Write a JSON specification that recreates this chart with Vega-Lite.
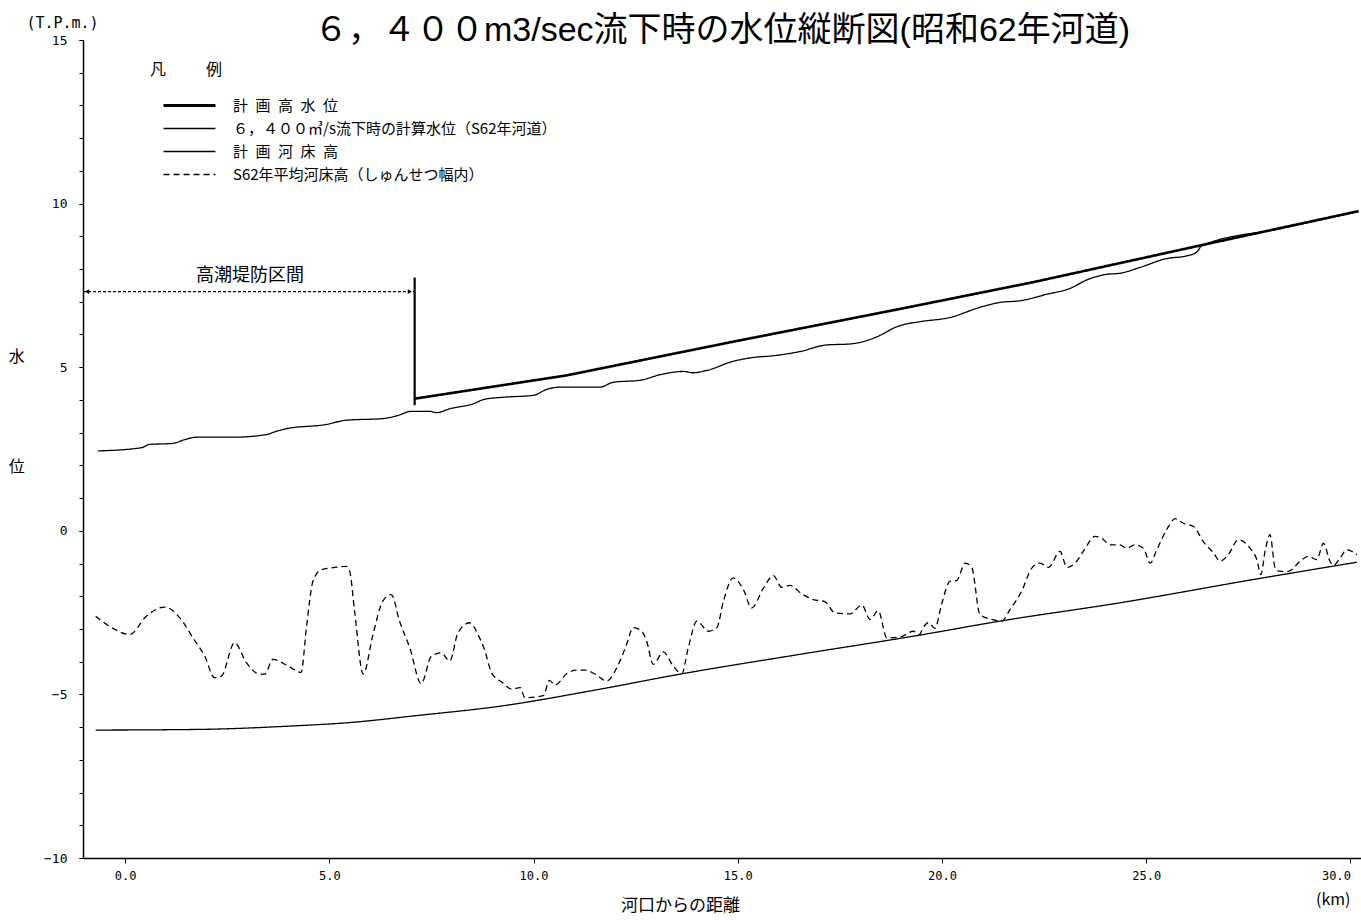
{
  "$schema": "https://vega.github.io/schema/vega-lite/v6.json",
  "width": 1278,
  "height": 818,
  "autosize": "none",
  "padding": {"left": 83, "top": 40, "right": 0, "bottom": 62},
  "background": "white",
  "title": {
    "text": "６，４００m3/sec流下時の水位縦断図(昭和62年河道)",
    "font": "Liberation Sans, Noto Sans CJK JP",
    "fontSize": 34,
    "fontWeight": "normal",
    "color": "black",
    "anchor": "middle",
    "frame": "group",
    "baseline": "alphabetic",
    "offset": -60
  },
  "resolve": {"axis": {"y": "independent"}},
  "datasets": {
    "hwl": [
      {"series": "計\u2002画\u2002高\u2002水\u2002位", "km": 7.10, "el": 4.04},
      {"series": "計\u2002画\u2002高\u2002水\u2002位", "km": 10.81, "el": 4.75},
      {"series": "計\u2002画\u2002高\u2002水\u2002位", "km": 14.89, "el": 5.78},
      {"series": "計\u2002画\u2002高\u2002水\u2002位", "km": 18.97, "el": 6.78},
      {"series": "計\u2002画\u2002高\u2002水\u2002位", "km": 22.24, "el": 7.60},
      {"series": "計\u2002画\u2002高\u2002水\u2002位", "km": 26.32, "el": 8.72},
      {"series": "計\u2002画\u2002高\u2002水\u2002位", "km": 30.20, "el": 9.77}
    ],
    "others": [
      {"series": "６，４００㎥/s流下時の計算水位（S62年河道）", "km": -0.66, "el": 2.44},
      {"series": "６，４００㎥/s流下時の計算水位（S62年河道）", "km": 0.40, "el": 2.54},
      {"series": "６，４００㎥/s流下時の計算水位（S62年河道）", "km": 0.60, "el": 2.64},
      {"series": "６，４００㎥/s流下時の計算水位（S62年河道）", "km": 1.17, "el": 2.67},
      {"series": "６，４００㎥/s流下時の計算水位（S62年河道）", "km": 1.42, "el": 2.77},
      {"series": "６，４００㎥/s流下時の計算水位（S62年河道）", "km": 1.74, "el": 2.86},
      {"series": "６，４００㎥/s流下時の計算水位（S62年河道）", "km": 2.64, "el": 2.86},
      {"series": "６，４００㎥/s流下時の計算水位（S62年河道）", "km": 3.46, "el": 2.94},
      {"series": "６，４００㎥/s流下時の計算水位（S62年河道）", "km": 3.70, "el": 3.04},
      {"series": "６，４００㎥/s流下時の計算水位（S62年河道）", "km": 3.95, "el": 3.12},
      {"series": "６，４００㎥/s流下時の計算水位（S62年河道）", "km": 4.93, "el": 3.25},
      {"series": "６，４００㎥/s流下時の計算水位（S62年河道）", "km": 5.42, "el": 3.38},
      {"series": "６，４００㎥/s流下時の計算水位（S62年河道）", "km": 6.31, "el": 3.43},
      {"series": "６，４００㎥/s流下時の計算水位（S62年河道）", "km": 6.64, "el": 3.51},
      {"series": "６，４００㎥/s流下時の計算水位（S62年河道）", "km": 7.01, "el": 3.65},
      {"series": "６，４００㎥/s流下時の計算水位（S62年河道）", "km": 7.46, "el": 3.65},
      {"series": "６，４００㎥/s流下時の計算水位（S62年河道）", "km": 7.62, "el": 3.61},
      {"series": "６，４００㎥/s流下時の計算水位（S62年河道）", "km": 7.95, "el": 3.73},
      {"series": "６，４００㎥/s流下時の計算水位（S62年河道）", "km": 8.52, "el": 3.88},
      {"series": "６，４００㎥/s流下時の計算水位（S62年河道）", "km": 8.80, "el": 4.02},
      {"series": "６，４００㎥/s流下時の計算水位（S62年河道）", "km": 9.24, "el": 4.08},
      {"series": "６，４００㎥/s流下時の計算水位（S62年河道）", "km": 10.00, "el": 4.14},
      {"series": "６，４００㎥/s流下時の計算水位（S62年河道）", "km": 10.32, "el": 4.32},
      {"series": "６，４００㎥/s流下時の計算水位（S62年河道）", "km": 10.65, "el": 4.39},
      {"series": "６，４００㎥/s流下時の計算水位（S62年河道）", "km": 11.63, "el": 4.39},
      {"series": "６，４００㎥/s流下時の計算水位（S62年河道）", "km": 11.95, "el": 4.54},
      {"series": "６，４００㎥/s流下時の計算水位（S62年河道）", "km": 12.61, "el": 4.60},
      {"series": "６，４００㎥/s流下時の計算水位（S62年河道）", "km": 13.10, "el": 4.77},
      {"series": "６，４００㎥/s流下時の計算水位（S62年河道）", "km": 13.67, "el": 4.87},
      {"series": "６，４００㎥/s流下時の計算水位（S62年河道）", "km": 13.91, "el": 4.83},
      {"series": "６，４００㎥/s流下時の計算水位（S62年河道）", "km": 14.24, "el": 4.90},
      {"series": "６，４００㎥/s流下時の計算水位（S62年河道）", "km": 14.89, "el": 5.18},
      {"series": "６，４００㎥/s流下時の計算水位（S62年河道）", "km": 15.47, "el": 5.31},
      {"series": "６，４００㎥/s流下時の計算水位（S62年河道）", "km": 15.79, "el": 5.34},
      {"series": "６，４００㎥/s流下時の計算水位（S62年河道）", "km": 16.53, "el": 5.48},
      {"series": "６，４００㎥/s流下時の計算水位（S62年河道）", "km": 17.18, "el": 5.68},
      {"series": "６，４００㎥/s流下時の計算水位（S62年河道）", "km": 17.75, "el": 5.71},
      {"series": "６，４００㎥/s流下時の計算水位（S62年河道）", "km": 18.48, "el": 5.97},
      {"series": "６，４００㎥/s流下時の計算水位（S62年河道）", "km": 18.81, "el": 6.19},
      {"series": "６，４００㎥/s流下時の計算水位（S62年河道）", "km": 18.97, "el": 6.27},
      {"series": "６，４００㎥/s流下時の計算水位（S62年河道）", "km": 19.46, "el": 6.39},
      {"series": "６，４００㎥/s流下時の計算水位（S62年河道）", "km": 20.20, "el": 6.52},
      {"series": "６，４００㎥/s流下時の計算水位（S62年河道）", "km": 20.93, "el": 6.83},
      {"series": "６，４００㎥/s流下時の計算水位（S62年河道）", "km": 21.42, "el": 6.98},
      {"series": "６，４００㎥/s流下時の計算水位（S62年河道）", "km": 21.91, "el": 7.03},
      {"series": "６，４００㎥/s流下時の計算水位（S62年河道）", "km": 22.57, "el": 7.23},
      {"series": "６，４００㎥/s流下時の計算水位（S62年河道）", "km": 23.14, "el": 7.41},
      {"series": "６，４００㎥/s流下時の計算水位（S62年河道）", "km": 23.55, "el": 7.67},
      {"series": "６，４００㎥/s流下時の計算水位（S62年河道）", "km": 24.04, "el": 7.84},
      {"series": "６，４００㎥/s流下時の計算水位（S62年河道）", "km": 24.36, "el": 7.87},
      {"series": "６，４００㎥/s流下時の計算水位（S62年河道）", "km": 24.85, "el": 8.05},
      {"series": "６，４００㎥/s流下時の計算水位（S62年河道）", "km": 25.50, "el": 8.32},
      {"series": "６，４００㎥/s流下時の計算水位（S62年河道）", "km": 25.99, "el": 8.40},
      {"series": "６，４００㎥/s流下時の計算水位（S62年河道）", "km": 26.24, "el": 8.52},
      {"series": "６，４００㎥/s流下時の計算水位（S62年河道）", "km": 26.36, "el": 8.71},
      {"series": "６，４００㎥/s流下時の計算水位（S62年河道）", "km": 28.30, "el": 9.24},
      {"series": "６，４００㎥/s流下時の計算水位（S62年河道）", "km": 30.20, "el": 9.76},

      {"series": "計\u2002画\u2002河\u2002床\u2002高", "km": -0.72, "el": -6.09},
      {"series": "計\u2002画\u2002河\u2002床\u2002高", "km": 1.00, "el": -6.08},
      {"series": "計\u2002画\u2002河\u2002床\u2002高", "km": 2.23, "el": -6.06},
      {"series": "計\u2002画\u2002河\u2002床\u2002高", "km": 4.00, "el": -5.97},
      {"series": "計\u2002画\u2002河\u2002床\u2002高", "km": 5.51, "el": -5.86},
      {"series": "計\u2002画\u2002河\u2002床\u2002高", "km": 7.12, "el": -5.65},
      {"series": "計\u2002画\u2002河\u2002床\u2002高", "km": 9.24, "el": -5.35},
      {"series": "計\u2002画\u2002河\u2002床\u2002高", "km": 11.50, "el": -4.87},
      {"series": "計\u2002画\u2002河\u2002床\u2002高", "km": 13.59, "el": -4.38},
      {"series": "計\u2002画\u2002河\u2002床\u2002高", "km": 16.50, "el": -3.78},
      {"series": "計\u2002画\u2002河\u2002床\u2002高", "km": 19.45, "el": -3.19},
      {"series": "計\u2002画\u2002河\u2002床\u2002高", "km": 21.42, "el": -2.76},
      {"series": "計\u2002画\u2002河\u2002床\u2002高", "km": 24.36, "el": -2.20},
      {"series": "計\u2002画\u2002河\u2002床\u2002高", "km": 27.62, "el": -1.49},
      {"series": "計\u2002画\u2002河\u2002床\u2002高", "km": 30.16, "el": -0.96},

      {"series": "S62年平均河床高（しゅんせつ幅内）", "km": -0.72, "el": -2.61},
      {"series": "S62年平均河床高（しゅんせつ幅内）", "km": -0.30, "el": -2.98},
      {"series": "S62年平均河床高（しゅんせつ幅内）", "km": 0.11, "el": -3.17},
      {"series": "S62年平均河床高（しゅんせつ幅内）", "km": 0.52, "el": -2.61},
      {"series": "S62年平均河床高（しゅんせつ幅内）", "km": 0.97, "el": -2.33},
      {"series": "S62年平均河床高（しゅんせつ幅内）", "km": 1.34, "el": -2.66},
      {"series": "S62年平均河床高（しゅんせつ幅内）", "km": 1.66, "el": -3.27},
      {"series": "S62年平均河床高（しゅんせつ幅内）", "km": 1.95, "el": -3.83},
      {"series": "S62年平均河床高（しゅんせつ幅内）", "km": 2.19, "el": -4.49},
      {"series": "S62年平均河床高（しゅんせつ幅内）", "km": 2.36, "el": -4.44},
      {"series": "S62年平均河床高（しゅんせつ幅内）", "km": 2.68, "el": -3.42},
      {"series": "S62年平均河床高（しゅんせつ幅内）", "km": 2.97, "el": -4.03},
      {"series": "S62年平均河床高（しゅんせつ幅内）", "km": 3.30, "el": -4.38},
      {"series": "S62年平均河床高（しゅんせつ幅内）", "km": 3.42, "el": -4.38},
      {"series": "S62年平均河床高（しゅんせつ幅内）", "km": 3.62, "el": -3.93},
      {"series": "S62年平均河床高（しゅんせつ幅内）", "km": 3.99, "el": -4.13},
      {"series": "S62年平均河床高（しゅんせつ幅内）", "km": 4.31, "el": -4.33},
      {"series": "S62年平均河床高（しゅんせつ幅内）", "km": 4.44, "el": -2.96},
      {"series": "S62年平均河床高（しゅんせつ幅内）", "km": 4.60, "el": -1.54},
      {"series": "S62年平均河床高（しゅんせつ幅内）", "km": 4.80, "el": -1.19},
      {"series": "S62年平均河床高（しゅんせつ幅内）", "km": 5.13, "el": -1.12},
      {"series": "S62年平均河床高（しゅんせつ幅内）", "km": 5.42, "el": -1.09},
      {"series": "S62年平均河床高（しゅんせつ幅内）", "km": 5.50, "el": -1.24},
      {"series": "S62年平均河床高（しゅんせつ幅内）", "km": 5.62, "el": -2.46},
      {"series": "S62年平均河床高（しゅんせつ幅内）", "km": 5.83, "el": -4.38},
      {"series": "S62年平均河床高（しゅんせつ幅内）", "km": 6.07, "el": -3.17},
      {"series": "S62年平均河床高（しゅんせつ幅内）", "km": 6.31, "el": -2.15},
      {"series": "S62年平均河床高（しゅんせつ幅内）", "km": 6.52, "el": -1.95},
      {"series": "S62年平均河床高（しゅんせつ幅内）", "km": 6.72, "el": -2.76},
      {"series": "S62年平均河床高（しゅんせつ幅内）", "km": 6.97, "el": -3.57},
      {"series": "S62年平均河床高（しゅんせつ幅内）", "km": 7.25, "el": -4.67},
      {"series": "S62年平均河床高（しゅんせつ幅内）", "km": 7.50, "el": -3.83},
      {"series": "S62年平均河床高（しゅんせつ幅内）", "km": 7.74, "el": -3.73},
      {"series": "S62年平均河床高（しゅんせつ幅内）", "km": 7.95, "el": -3.98},
      {"series": "S62年平均河床高（しゅんせつ幅内）", "km": 8.15, "el": -3.12},
      {"series": "S62年平均河床高（しゅんせつ幅内）", "km": 8.44, "el": -2.81},
      {"series": "S62年平均河床高（しゅんせつ幅内）", "km": 8.64, "el": -3.17},
      {"series": "S62年平均河床高（しゅんせつ幅内）", "km": 8.81, "el": -3.67},
      {"series": "S62年平均河床高（しゅんせつ幅内）", "km": 8.97, "el": -4.33},
      {"series": "S62年平均河床高（しゅんせつ幅内）", "km": 9.24, "el": -4.64},
      {"series": "S62年平均河床高（しゅんせつ幅内）", "km": 9.47, "el": -4.84},
      {"series": "S62年平均河床高（しゅんせつ幅内）", "km": 9.67, "el": -4.79},
      {"series": "S62年平均河床高（しゅんせつ幅内）", "km": 9.79, "el": -5.10},
      {"series": "S62年平均河床高（しゅんせつ幅内）", "km": 10.24, "el": -5.04},
      {"series": "S62年平均河床高（しゅんせつ幅内）", "km": 10.39, "el": -4.57},
      {"series": "S62年平均河床高（しゅんせつ幅内）", "km": 10.53, "el": -4.71},
      {"series": "S62年平均河床高（しゅんせつ幅内）", "km": 10.81, "el": -4.37},
      {"series": "S62年平均河床高（しゅんせつ幅内）", "km": 11.06, "el": -4.26},
      {"series": "S62年平均河床高（しゅんせつ幅内）", "km": 11.26, "el": -4.26},
      {"series": "S62年平均河床高（しゅんせつ幅内）", "km": 11.51, "el": -4.38},
      {"series": "S62年平均河床高（しゅんせつ幅内）", "km": 11.79, "el": -4.59},
      {"series": "S62年平均河床高（しゅんせつ幅内）", "km": 12.08, "el": -4.08},
      {"series": "S62年平均河床高（しゅんせつ幅内）", "km": 12.28, "el": -3.47},
      {"series": "S62年平均河床高（しゅんせつ幅内）", "km": 12.44, "el": -2.96},
      {"series": "S62年平均河床高（しゅんせつ幅内）", "km": 12.65, "el": -3.07},
      {"series": "S62年平均河床高（しゅんせつ幅内）", "km": 12.77, "el": -3.37},
      {"series": "S62年平均河床高（しゅんせつ幅内）", "km": 12.93, "el": -4.08},
      {"series": "S62年平均河床高（しゅんせつ幅内）", "km": 13.18, "el": -3.70},
      {"series": "S62年平均河床高（しゅんせつ幅内）", "km": 13.42, "el": -4.13},
      {"series": "S62年平均河床高（しゅんせつ幅内）", "km": 13.63, "el": -4.37},
      {"series": "S62年平均河床高（しゅんせつ幅内）", "km": 13.79, "el": -3.57},
      {"series": "S62年平均河床高（しゅんせつ幅内）", "km": 14.00, "el": -2.76},
      {"series": "S62年平均河床高（しゅんせつ幅内）", "km": 14.28, "el": -3.07},
      {"series": "S62年平均河床高（しゅんせつ幅内）", "km": 14.49, "el": -2.96},
      {"series": "S62年平均河床高（しゅんせつ幅内）", "km": 14.65, "el": -2.15},
      {"series": "S62年平均河床高（しゅんせつ幅内）", "km": 14.89, "el": -1.44},
      {"series": "S62年平均河床高（しゅんせつ幅内）", "km": 15.14, "el": -1.80},
      {"series": "S62年平均河床高（しゅんせつ幅内）", "km": 15.34, "el": -2.36},
      {"series": "S62年平均河床高（しゅんせつ幅内）", "km": 15.63, "el": -1.75},
      {"series": "S62年平均河床高（しゅんせつ幅内）", "km": 15.87, "el": -1.37},
      {"series": "S62年平均河床高（しゅんせつ幅内）", "km": 16.08, "el": -1.73},
      {"series": "S62年平均河床高（しゅんせつ幅内）", "km": 16.28, "el": -1.67},
      {"series": "S62年平均河床高（しゅんせつ幅内）", "km": 16.57, "el": -1.93},
      {"series": "S62年平均河床高（しゅんせつ幅内）", "km": 16.85, "el": -2.10},
      {"series": "S62年平均河床高（しゅんせつ幅内）", "km": 17.14, "el": -2.17},
      {"series": "S62年平均河床高（しゅんせつ幅内）", "km": 17.38, "el": -2.51},
      {"series": "S62年平均河床高（しゅんせつ幅内）", "km": 17.75, "el": -2.54},
      {"series": "S62年平均河床高（しゅんせつ幅内）", "km": 18.04, "el": -2.27},
      {"series": "S62年平均河床高（しゅんせつ幅内）", "km": 18.24, "el": -2.71},
      {"series": "S62年平均河床高（しゅんせつ幅内）", "km": 18.44, "el": -2.44},
      {"series": "S62年平均河床高（しゅんせつ幅内）", "km": 18.65, "el": -3.27},
      {"series": "S62年平均河床高（しゅんせつ幅内）", "km": 18.97, "el": -3.25},
      {"series": "S62年平均河床高（しゅんせつ幅内）", "km": 19.30, "el": -3.07},
      {"series": "S62年平均河床高（しゅんせつ幅内）", "km": 19.45, "el": -3.17},
      {"series": "S62年平均河床高（しゅんせつ幅内）", "km": 19.54, "el": -2.96},
      {"series": "S62年平均河床高（しゅんせつ幅内）", "km": 19.67, "el": -2.81},
      {"series": "S62年平均河床高（しゅんせつ幅内）", "km": 19.83, "el": -2.98},
      {"series": "S62年平均河床高（しゅんせつ幅内）", "km": 19.99, "el": -2.25},
      {"series": "S62年平均河床高（しゅんせつ幅内）", "km": 20.20, "el": -1.54},
      {"series": "S62年平均河床高（しゅんせつ幅内）", "km": 20.36, "el": -1.52},
      {"series": "S62年平均河床高（しゅんせつ幅内）", "km": 20.57, "el": -0.99},
      {"series": "S62年平均河床高（しゅんせつ幅内）", "km": 20.73, "el": -1.12},
      {"series": "S62年平均河床高（しゅんせつ幅内）", "km": 20.93, "el": -2.56},
      {"series": "S62年平均河床高（しゅんせつ幅内）", "km": 21.22, "el": -2.71},
      {"series": "S62年平均河床高（しゅんせつ幅内）", "km": 21.46, "el": -2.76},
      {"series": "S62年平均河床高（しゅんせつ幅内）", "km": 21.67, "el": -2.40},
      {"series": "S62年平均河床高（しゅんせつ幅内）", "km": 21.95, "el": -1.85},
      {"series": "S62年平均河床高（しゅんせつ幅内）", "km": 22.20, "el": -1.14},
      {"series": "S62年平均河床高（しゅんせつ幅内）", "km": 22.40, "el": -0.99},
      {"series": "S62年平均河床高（しゅんせつ幅内）", "km": 22.61, "el": -1.12},
      {"series": "S62年平均河床高（しゅんせつ幅内）", "km": 22.89, "el": -0.63},
      {"series": "S62年平均河床高（しゅんせつ幅内）", "km": 23.06, "el": -1.12},
      {"series": "S62年平均河床高（しゅんせつ幅内）", "km": 23.26, "el": -0.99},
      {"series": "S62年平均河床高（しゅんせつ幅内）", "km": 23.46, "el": -0.63},
      {"series": "S62年平均河床高（しゅんせつ幅内）", "km": 23.75, "el": -0.17},
      {"series": "S62年平均河床高（しゅんせつ幅内）", "km": 23.91, "el": -0.23},
      {"series": "S62年平均河床高（しゅんせつ幅内）", "km": 24.12, "el": -0.43},
      {"series": "S62年平均河床高（しゅんせつ幅内）", "km": 24.36, "el": -0.43},
      {"series": "S62年平均河床高（しゅんせつ幅内）", "km": 24.52, "el": -0.53},
      {"series": "S62年平均河床高（しゅんせつ幅内）", "km": 24.73, "el": -0.43},
      {"series": "S62年平均河床高（しゅんせつ幅内）", "km": 24.93, "el": -0.53},
      {"series": "S62年平均河床高（しゅんせつ幅内）", "km": 25.10, "el": -0.99},
      {"series": "S62年平均河床高（しゅんせつ幅内）", "km": 25.26, "el": -0.58},
      {"series": "S62年平均河床高（しゅんせつ幅内）", "km": 25.50, "el": 0.03},
      {"series": "S62年平均河床高（しゅんせつ幅内）", "km": 25.71, "el": 0.37},
      {"series": "S62年平均河床高（しゅんせつ幅内）", "km": 25.91, "el": 0.23},
      {"series": "S62年平均河床高（しゅんせつ幅内）", "km": 26.16, "el": 0.13},
      {"series": "S62年平均河床高（しゅんせつ幅内）", "km": 26.40, "el": -0.33},
      {"series": "S62年平均河床高（しゅんせつ幅内）", "km": 26.65, "el": -0.68},
      {"series": "S62年平均河床高（しゅんせつ幅内）", "km": 26.81, "el": -0.93},
      {"series": "S62年平均河床高（しゅんせつ幅内）", "km": 27.01, "el": -0.73},
      {"series": "S62年平均河床高（しゅんせつ幅内）", "km": 27.26, "el": -0.27},
      {"series": "S62年平均河床高（しゅんせつ幅内）", "km": 27.54, "el": -0.53},
      {"series": "S62年平均河床高（しゅんせつ幅内）", "km": 27.71, "el": -0.88},
      {"series": "S62年平均河床高（しゅんせつ幅内）", "km": 27.81, "el": -1.34},
      {"series": "S62年平均河床高（しゅんせつ幅内）", "km": 27.91, "el": -0.63},
      {"series": "S62年平均河床高（しゅんせつ幅内）", "km": 28.03, "el": -0.12},
      {"series": "S62年平均河床高（しゅんせつ幅内）", "km": 28.16, "el": -1.14},
      {"series": "S62年平均河床高（しゅんせつ幅内）", "km": 28.28, "el": -1.24},
      {"series": "S62年平均河床高（しゅんせつ幅内）", "km": 28.48, "el": -1.24},
      {"series": "S62年平均河床高（しゅんせつ幅内）", "km": 28.77, "el": -0.93},
      {"series": "S62年平均河床高（しゅんせつ幅内）", "km": 28.97, "el": -0.78},
      {"series": "S62年平均河床高（しゅんせつ幅内）", "km": 29.18, "el": -0.88},
      {"series": "S62年平均河床高（しゅんせつ幅内）", "km": 29.34, "el": -0.38},
      {"series": "S62年平均河床高（しゅんせつ幅内）", "km": 29.50, "el": -0.93},
      {"series": "S62年平均河床高（しゅんせつ幅内）", "km": 29.58, "el": -1.06},
      {"series": "S62年平均河床高（しゅんせつ幅内）", "km": 29.75, "el": -0.83},
      {"series": "S62年平均河床高（しゅんせつ幅内）", "km": 29.91, "el": -0.58},
      {"series": "S62年平均河床高（しゅんせつ幅内）", "km": 30.16, "el": -0.73}
    ],
    "span": [{"km": -1.03, "km2": 7.09, "el": 7.31}],
    "levee": [{"km": 7.09, "el": 7.74, "el2": 3.84}],
    "arrows": [
      {"end": "left", "km": -0.93, "el": 7.31},
      {"end": "right", "km": 6.97, "el": 7.31}
    ],
    "bignote": [{"km": 3.06, "el": 7.80, "txt": "高潮堤防区間"}],
    "notes": [
      {"km": -2.65, "el": 5.31, "txt": "水"},
      {"km": -2.65, "el": 1.96, "txt": "位"},
      {"km": 29.58, "el": -11.28, "txt": "(km)"}
    ]
  },
  "layer": [
    {
      "data": {"name": "others"},
      "mark": {"type": "line", "interpolate": "monotone", "color": "black", "strokeWidth": 1.3},
      "encoding": {
        "x": {
          "field": "km", "type": "quantitative",
          "scale": {"domain": [-1.03, 30.26], "nice": false, "zero": false},
          "axis": {
            "values": [0, 5, 10, 15, 20, 25, 30],
            "format": ".1f",
            "title": "河口からの距離",
            "titleFont": "Noto Sans CJK JP",
            "titleFontSize": 17,
            "titleFontWeight": "normal",
            "titleX": 597,
            "titleY": 47,
            "titleAlign": "center",
            "titleBaseline": "middle",
            "labelFont": "DejaVu Sans Mono",
            "labelFontSize": 12,
            "labelColor": "black",
            "labelPadding": 7,
            "tickSize": 5,
            "labelFlush": 15
          }
        },
        "y": {
          "field": "el", "type": "quantitative",
          "scale": {"domain": [-10, 15], "nice": false, "zero": false},
          "axis": {
            "orient": "left",
            "values": [-10, -5, 0, 5, 10, 15],
            "labelOverlap": false,
            "title": "(T.P.m.)",
            "titleAngle": 0,
            "titleX": -21,
            "titleY": -18,
            "titleAlign": "center",
            "titleBaseline": "middle",
            "titleFont": "DejaVu Sans Mono",
            "titleFontSize": 15,
            "titleFontWeight": "normal",
            "labelFont": "DejaVu Sans Mono",
            "labelFontSize": 13,
            "labelColor": "black",
            "labelPadding": 12,
            "tickSize": 4
          }
        },
        "strokeDash": {
          "field": "series", "type": "nominal",
          "scale": {
            "domain": ["計\u2002画\u2002高\u2002水\u2002位", "６，４００㎥/s流下時の計算水位（S62年河道）", "計\u2002画\u2002河\u2002床\u2002高", "S62年平均河床高（しゅんせつ幅内）"],
            "range": [[1, 0], [1, 0], [1, 0], [6, 4]]
          },
          "legend": {
            "orient": "none",
            "legendX": 67,
            "legendY": 22,
            "title": "凡　　\u2002例",
            "titleFont": "Noto Sans CJK JP",
            "titleFontSize": 16,
            "titleFontWeight": "normal",
            "titleColor": "black",
            "titlePadding": 20,
            "symbolType": "M-5,0H5",
            "symbolSize": 108,
            "symbolStrokeColor": "black",
            "symbolStrokeWidth": 1.4,
            "symbolOffset": 32,
            "labelOffset": 36,
            "labelFont": "Noto Sans CJK JP",
            "labelFontSize": 15,
            "labelColor": "black",
            "labelLimit": 600,
            "rowPadding": 7,
            "encode": {
              "symbols": {"update": {"strokeWidth": {"signal": "(datum.index === 0 ? 2.8 : 1.3)"}}}
            }
          }
        }
      }
    },
    {
      "data": {"name": "hwl"},
      "mark": {"type": "line", "interpolate": "linear", "color": "black", "strokeWidth": 2.6},
      "encoding": {
        "x": {"field": "km", "type": "quantitative"},
        "y": {
          "field": "el", "type": "quantitative",
          "axis": {
            "orient": "left",
            "values": [-10, -9, -8, -7, -6, -5, -4, -3, -2, -1, 0, 1, 2, 3, 4, 5, 6, 7, 8, 9, 10, 11, 12, 13, 14, 15],
            "labels": false,
            "domain": false,
            "title": null,
            "tickSize": 4
          }
        },
        "strokeDash": {"field": "series", "type": "nominal"}
      }
    },
    {
      "data": {"name": "span"},
      "mark": {"type": "rule", "color": "black", "strokeWidth": 1.2, "strokeDash": [3, 2]},
      "encoding": {
        "x": {"field": "km", "type": "quantitative"},
        "x2": {"field": "km2"},
        "y": {"field": "el", "type": "quantitative", "axis": null}
      }
    },
    {
      "data": {"name": "levee"},
      "mark": {"type": "rule", "color": "black", "strokeWidth": 2.2},
      "encoding": {
        "x": {"field": "km", "type": "quantitative"},
        "y": {"field": "el", "type": "quantitative", "axis": null},
        "y2": {"field": "el2"}
      }
    },
    {
      "data": {"name": "arrows"},
      "mark": {"type": "point", "filled": true, "color": "black", "size": 22, "opacity": 1},
      "encoding": {
        "x": {"field": "km", "type": "quantitative"},
        "y": {"field": "el", "type": "quantitative", "axis": null},
        "shape": {
          "field": "end", "type": "nominal",
          "scale": {"domain": ["left", "right"], "range": ["triangle-left", "triangle-right"]},
          "legend": null
        }
      }
    },
    {
      "data": {"name": "bignote"},
      "mark": {"type": "text", "font": "Noto Sans CJK JP", "fontSize": 18, "color": "black", "align": "center", "baseline": "middle"},
      "encoding": {
        "x": {"field": "km", "type": "quantitative"},
        "y": {"field": "el", "type": "quantitative", "axis": null},
        "text": {"field": "txt"}
      }
    },
    {
      "data": {"name": "notes"},
      "mark": {"type": "text", "font": "Noto Sans CJK JP", "fontSize": 16, "color": "black", "align": "center", "baseline": "middle"},
      "encoding": {
        "x": {"field": "km", "type": "quantitative"},
        "y": {"field": "el", "type": "quantitative", "axis": null},
        "text": {"field": "txt"}
      }
    }
  ],
  "config": {
    "view": {"stroke": null},
    "font": "Noto Sans CJK JP",
    "axis": {
      "grid": false,
      "domainColor": "black",
      "domainWidth": 1.5,
      "tickColor": "black",
      "tickWidth": 1,
      "labelColor": "black",
      "titleColor": "black"
    }
  }
}
